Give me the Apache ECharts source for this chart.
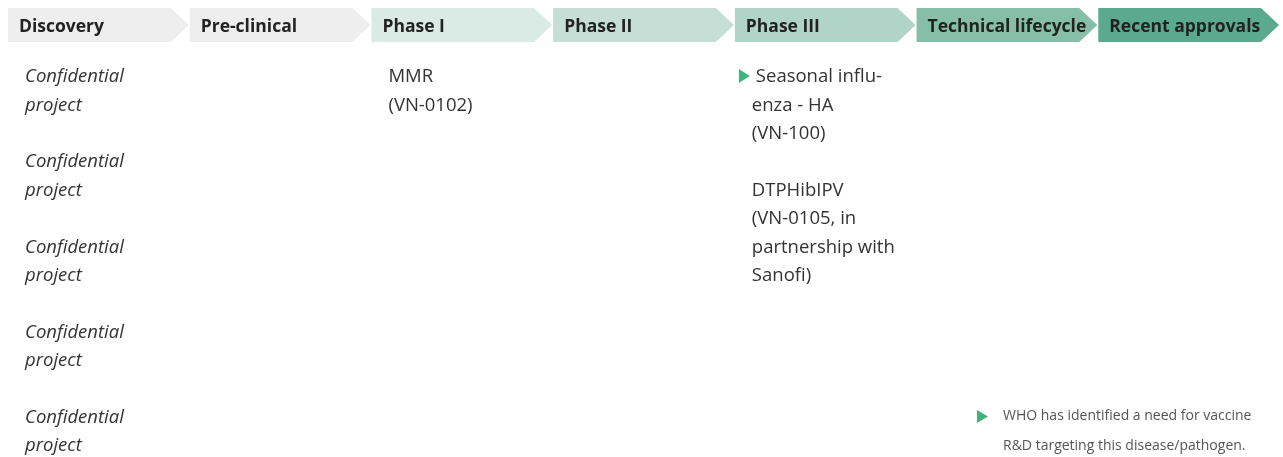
<!DOCTYPE html>
<html>
<head>
<meta charset="utf-8">
<script src="https://cdn.jsdelivr.net/npm/echarts@6/dist/echarts.min.js"></script>
<style>
html,body{margin:0;padding:0;background:#fff;}
#c{width:1283px;height:457px;}
</style>
</head>
<body>
<div id="c"></div>
<script>
// ---- data ----
const stages = ['Discovery', 'Pre-clinical', 'Phase I', 'Phase II', 'Phase III', 'Technical lifecycle', 'Recent approvals'];
const projectStages = ['Discovery', 'Discovery', 'Discovery', 'Discovery', 'Discovery', 'Phase I', 'Phase III', 'Phase III'];
const projectStartLines = [0, 3, 6, 9, 12, 0, 0, 4];
const projectTexts = [
  ['Confidential', 'project'],
  ['Confidential', 'project'],
  ['Confidential', 'project'],
  ['Confidential', 'project'],
  ['Confidential', 'project'],
  ['MMR', '(VN-0102)'],
  ['Seasonal influ-', 'enza - HA', '(VN-100)'],
  ['DTPHibIPV', '(VN-0105, in', 'partnership with', 'Sanofi)']
];
const projectConfidential = [true, true, true, true, true, false, false, false];
const projectWhoNeed = [false, false, false, false, false, false, true, false];
const footnoteLines = ['WHO has identified a need for vaccine', 'R&D targeting this disease/pathogen.'];

// ---- styles ----
const stageColors = ['#eeeeee', '#eeeeee', '#d9ebe4', '#c5dfd6', '#b0d5c8', '#87bea9', '#5ba98f'];
const markerColor = '#41b47b';
const FONT = '"Open Sans", "Noto Sans", sans-serif';

const chart = echarts.init(document.getElementById('c'), null, {renderer: 'canvas'});

function headerItem(params, api) {
  const i = api.value(0);
  const c = api.coord([i, 0.5]);
  const bw = api.size([1, 0])[0];
  const h = api.size([0, 1])[1];
  const x0 = c[0] - bw / 2;
  const x1 = c[0] + bw / 2 - 1;
  const tip = 18;
  const y0 = c[1] - h / 2, y1 = c[1] + h / 2;
  return {
    type: 'group',
    children: [
      {
        type: 'polygon',
        shape: {points: [[x0, y0], [x1 - tip, y0], [x1, c[1]], [x1 - tip, y1], [x0, y1]]},
        style: {fill: stageColors[i]}
      },
      {
        type: 'text',
        x: x0 + 11, y: c[1] + 2,
        style: {
          text: stages[i], fill: '#222222', font: 'bold 17.5px ' + FONT,
          textAlign: 'left', textVerticalAlign: 'middle'
        },
        z2: 10
      }
    ]
  };
}

function projectItem(params, api) {
  const idx = params.dataIndex;
  const si = api.value(0);
  const start = api.value(1);
  const bw = api.size([1, 0])[0];
  const c0 = api.coord([si, start]);
  const left = c0[0] - bw / 2 + 17;
  const children = [];
  const lines = projectTexts[idx];
  lines.forEach(function (t, k) {
    const c = api.coord([si, start + k]);
    const marked = projectWhoNeed[idx] && k === 0;
    children.push({
      type: 'text',
      x: marked ? left + 4 : left,
      y: c[1] + 1,
      style: {
        text: t, fill: '#333333',
        font: (projectConfidential[idx] ? 'italic ' : '') + '18.5px ' + FONT,
        textAlign: 'left', textVerticalAlign: 'middle'
      }
    });
  });
  if (projectWhoNeed[idx]) {
    const tx = c0[0] - bw / 2 + 4, ty = c0[1];
    children.push({
      type: 'polygon',
      shape: {points: [[tx, ty - 7], [tx + 11, ty], [tx, ty + 7]]},
      style: {fill: markerColor}
    });
  }
  return {type: 'group', children: children};
}

const option = {
  animation: false,
  backgroundColor: '#ffffff',
  grid: [
    {left: 8, right: 3, top: 8, height: 34},
    {left: 8, right: 3, top: 76, bottom: 12}
  ],
  xAxis: [
    {type: 'category', data: stages, gridIndex: 0, show: false, boundaryGap: true},
    {type: 'category', data: stages, gridIndex: 1, show: false, boundaryGap: true}
  ],
  yAxis: [
    {type: 'value', gridIndex: 0, min: 0, max: 1, show: false},
    {type: 'value', gridIndex: 1, min: 0, max: 13, inverse: true, show: false}
  ],
  series: [
    {
      type: 'custom',
      xAxisIndex: 0, yAxisIndex: 0,
      renderItem: headerItem,
      data: stages.map(function (s, i) { return [i, 0.5]; }),
      silent: true
    },
    {
      type: 'custom',
      xAxisIndex: 1, yAxisIndex: 1,
      renderItem: projectItem,
      data: projectStages.map(function (s, i) { return [stages.indexOf(s), projectStartLines[i]]; }),
      silent: true
    }
  ],
  graphic: [
    {
      type: 'polygon', left: 977, top: 410,
      shape: {points: [[0, 0], [11, 6.5], [0, 13]]},
      style: {fill: markerColor}
    },
    {
      type: 'text', left: 1003, top: 409,
      style: {text: footnoteLines[0], fill: '#555555', font: '14px ' + FONT}
    },
    {
      type: 'text', left: 1003, top: 439,
      style: {text: footnoteLines[1], fill: '#555555', font: '14px ' + FONT}
    }
  ]
};
chart.setOption(option);
</script>
</body>
</html>
